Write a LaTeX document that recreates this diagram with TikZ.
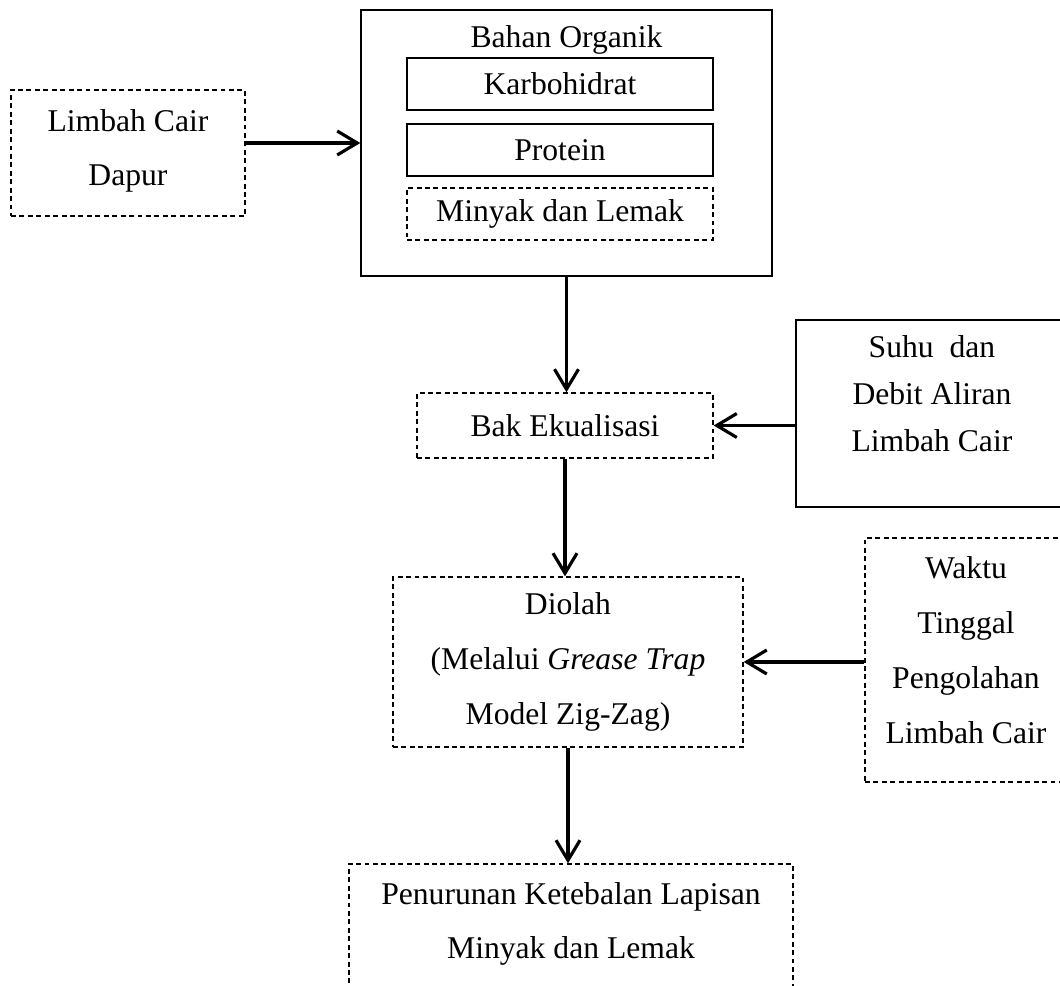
\documentclass[tikz,border=0pt]{standalone}
\usepackage{fontspec}
\setmainfont{Liberation Serif}
\usetikzlibrary{arrows.meta,calc}
\newcommand{\ruangbawah}[1]{\rule[-#1]{0pt}{#1}}

\begin{document}
\begin{tikzpicture}[x=0.1mm,y=-0.1mm,>={Straight Barb[length=2mm,width=2.4mm]},
   every node/.style={font=\fontsize{9}{15.6}\selectfont,align=center,inner sep=0pt},
   kotak/.style={draw,line width=0.4pt},
   kotakputus/.style={kotak,dash pattern=on 1.4pt off 1pt},
   panah/.style={->,line width=0.9pt}]
  \useasboundingbox (0,0) rectangle (1060,986);
  \clip (0,0) rectangle (1060,986);
  \node[kotakputus,minimum width=23.4mm,minimum height=12.6mm] (limbah) at (128,153) {Limbah Cair\\Dapur\ruangbawah{1.1mm}};
  \node[kotak,minimum width=41.1mm,minimum height=26.6mm] (organik) at (566.5,143) {};
  \node (bahan) at (566.5,40) {Bahan Organik};
  \node[kotak,minimum width=30.6mm,minimum height=5.2mm] (karbo) at (560,84) {Karbohidrat};
  \node[kotak,minimum width=30.6mm,minimum height=5.2mm] (protein) at (560,150) {Protein};
  \node[kotakputus,minimum width=30.6mm,minimum height=5.2mm] (minyak) at (560,214) {Minyak dan Lemak};
  \node[kotakputus,minimum width=29.6mm,minimum height=6.5mm] (bak) at (565,425.5) {Bak Ekualisasi};
  \node[kotak,minimum width=27.2mm,minimum height=18.7mm,font=\fontsize{9}{13.4}\selectfont] (suhu) at (932,413.5) {Suhu~ dan\\Debit Aliran\\Limbah Cair\ruangbawah{4mm}};
  \node[kotakputus,minimum width=35mm,minimum height=17mm] (diolah) at (568,662) {Diolah\\(Melalui \textit{Grease Trap}\\Model Zig-Zag)};
  \node[kotakputus,minimum width=20.2mm,minimum height=24.4mm] (waktu) at (966,660) {Waktu\\Tinggal\\Pengolahan\\Limbah Cair\ruangbawah{2mm}};
  \node[kotakputus,minimum width=44.4mm,minimum height=17mm] (turun) at (571,949) {Penurunan Ketebalan Lapisan\\Minyak dan Lemak\ruangbawah{5.7mm}};
  \draw[panah] ([yshift=1mm]limbah.east) -- ([yshift=1mm]limbah.east -| organik.west);
  \draw[panah] (organik.south) -- (organik.south |- bak.north);
  \draw[panah] (bak.east -| suhu.west) -- (bak.east);
  \draw[panah] (bak.south) -- (bak.south |- diolah.north);
  \draw[panah] (diolah.east -| waktu.west) -- (diolah.east);
  \draw[panah] (diolah.south) -- (diolah.south |- turun.north);
\end{tikzpicture}
\end{document}
